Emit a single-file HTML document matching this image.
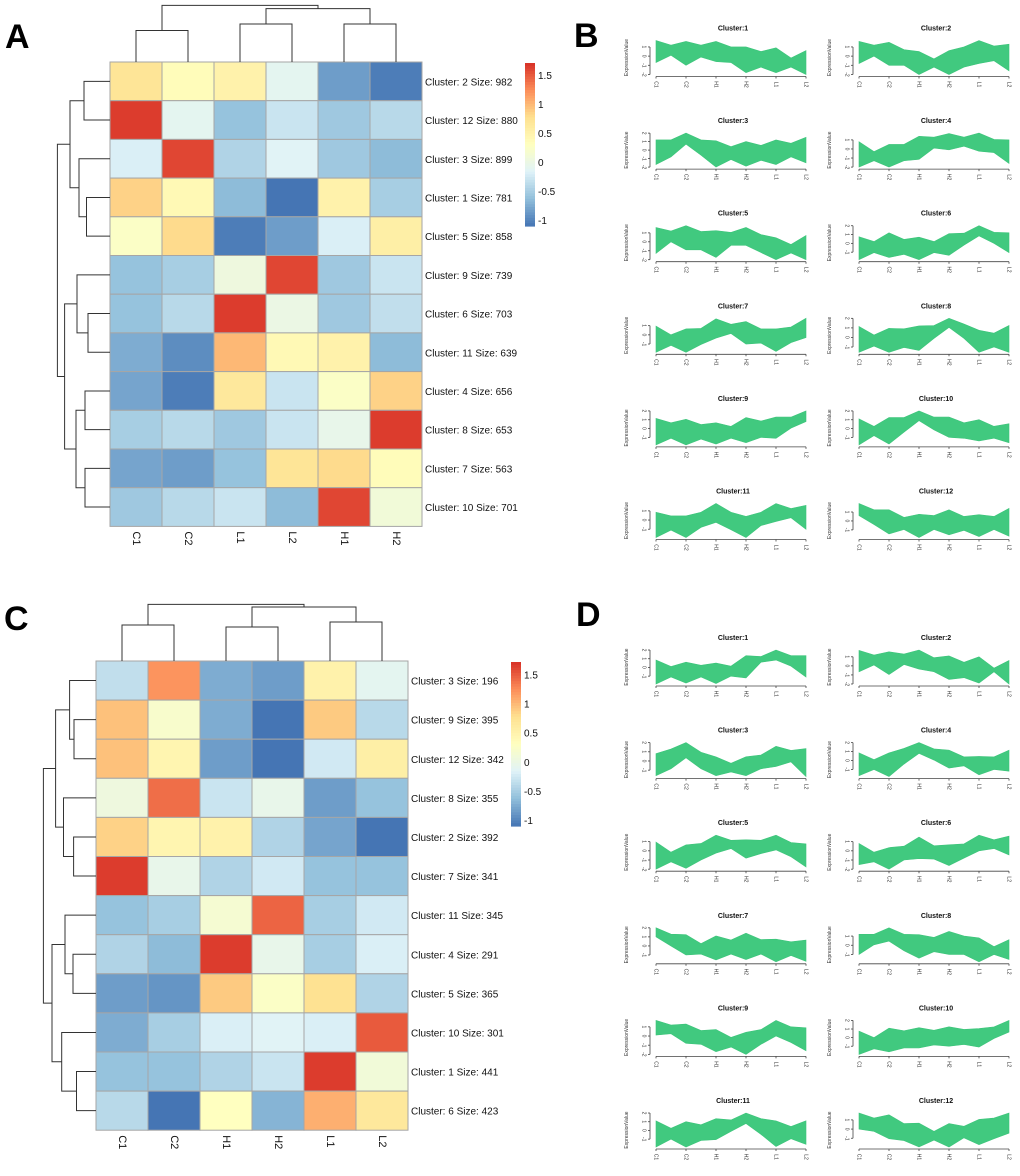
<!DOCTYPE html>
<html><head><meta charset="utf-8">
<style>
html,body{margin:0;padding:0;background:#fff;}
svg{display:block;font-family:"Liberation Sans",Arial,sans-serif;}
</style></head>
<body>
<svg id="fig" width="1020" height="1176" viewBox="0 0 1020 1176" xmlns="http://www.w3.org/2000/svg">
<rect width="1020" height="1176" fill="#fff"/>
<text x="5" y="48" font-size="34" font-weight="bold">A</text>
<text x="574" y="47" font-size="34" font-weight="bold">B</text>
<text x="4" y="630" font-size="34" font-weight="bold">C</text>
<text x="576" y="626" font-size="34" font-weight="bold">D</text>
<g id="layer"></g>
</svg>
<script>
// ---------- Heatmap data ----------
const colsA = ["C1","C2","L1","L2","H1","H2"];
const rowsA = ["Cluster: 2 Size: 982","Cluster: 12 Size: 880","Cluster: 3 Size: 899","Cluster: 1 Size: 781","Cluster: 5 Size: 858","Cluster: 9 Size: 739","Cluster: 6 Size: 703","Cluster: 11 Size: 639","Cluster: 4 Size: 656","Cluster: 8 Size: 653","Cluster: 7 Size: 563","Cluster: 10 Size: 701"];
const valsA = [
 [0.7,0.35,0.5,-0.1,-0.85,-1.05],
 [1.65,-0.1,-0.6,-0.3,-0.55,-0.4],
 [-0.2,1.6,-0.45,-0.15,-0.55,-0.65],
 [0.85,0.4,-0.65,-1.1,0.5,-0.5],
 [0.25,0.8,-1.05,-0.85,-0.2,0.55],
 [-0.6,-0.5,0.05,1.6,-0.55,-0.3],
 [-0.6,-0.4,1.65,0.0,-0.55,-0.35],
 [-0.75,-0.95,1.0,0.4,0.5,-0.65],
 [-0.8,-1.05,0.65,-0.3,0.25,0.85],
 [-0.5,-0.4,-0.55,-0.3,-0.05,1.65],
 [-0.8,-0.85,-0.6,0.7,0.8,0.35],
 [-0.55,-0.4,-0.3,-0.65,1.6,0.1]];
const rowMergeA = [[0,1,26],[3,4,23.5],[2,13,31],[12,14,40],[6,7,22],[5,16,33],[8,9,25],[10,11,25],[18,19,34],[17,20,45.4],[15,21,52.6]];
const colMergeA = [[0,1,31.5],[2,3,38],[4,5,38],[7,8,53.4],[6,9,56.6]];

const colsC = ["C1","C2","H1","H2","L1","L2"];
const rowsC = ["Cluster: 3 Size: 196","Cluster: 9 Size: 395","Cluster: 12 Size: 342","Cluster: 8 Size: 355","Cluster: 2 Size: 392","Cluster: 7 Size: 341","Cluster: 11 Size: 345","Cluster: 4 Size: 291","Cluster: 5 Size: 365","Cluster: 10 Size: 301","Cluster: 1 Size: 441","Cluster: 6 Size: 423"];
const valsC = [
 [-0.35,1.2,-0.75,-0.85,0.5,-0.1],
 [0.95,0.2,-0.75,-1.1,0.9,-0.4],
 [0.95,0.45,-0.85,-1.1,-0.25,0.55],
 [0.05,1.4,-0.3,-0.05,-0.85,-0.6],
 [0.85,0.45,0.5,-0.45,-0.8,-1.1],
 [1.65,-0.05,-0.45,-0.25,-0.6,-0.6],
 [-0.6,-0.5,0.15,1.45,-0.5,-0.25],
 [-0.45,-0.65,1.65,-0.05,-0.5,-0.2],
 [-0.85,-0.9,0.9,0.25,0.75,-0.45],
 [-0.75,-0.5,-0.2,-0.15,-0.2,1.5],
 [-0.6,-0.6,-0.45,-0.3,1.65,0.1],
 [-0.4,-1.1,0.3,-0.7,1.05,0.65]];
const rowMergeC = [[1,2,22],[0,12,26.4],[4,5,22.4],[3,14,32.5],[13,15,40.4],[7,8,23],[6,17,31],[10,11,19.5],[9,19,34.3],[18,20,44],[16,21,52.6]];
const colMergeC = [[0,1,36],[2,3,34],[4,5,39],[7,8,54],[6,9,56.6]];
const cbTicks = [1.5,1,0.5,0,-0.5,-1];

// ---------- Line-panel data (envelopes at half steps C1..L2) ----------
const xLabels = ["C1","C2","H1","H2","L1","L2"];
const hiB = [
 [1.7,1.2,1.6,1.2,1.6,1.0,1.0,0.5,0.9,-0.2,0.6],
 [1.6,1.2,1.5,0.7,0.5,-0.3,0.6,1.0,1.7,1.1,1.3],
 [1.2,1.2,2.0,1.2,1.1,0.4,1.0,0.55,1.2,0.8,1.5],
 [0.8,-0.3,0.5,0.5,1.4,1.3,1.7,1.3,1.75,1.05,1.0],
 [1.6,1.2,1.8,1.15,1.25,1.05,1.6,0.8,0.45,-0.3,0.7],
 [0.75,0.2,1.2,0.45,0.7,0.2,1.1,1.15,2.0,1.25,1.2],
 [0.95,0.0,0.65,0.7,1.75,1.15,1.45,0.65,0.65,0.85,1.8],
 [1.15,0.25,0.95,0.9,1.2,1.25,2.0,1.4,0.75,0.45,1.25],
 [1.15,0.65,1.05,0.45,0.65,0.25,1.25,0.85,1.3,1.3,2.0],
 [1.1,0.25,1.25,1.25,2.0,1.3,1.3,0.65,1.0,0.25,0.55],
 [0.85,0.45,0.45,0.85,1.8,0.85,0.4,0.85,1.8,1.25,1.6],
 [1.95,1.25,1.25,0.4,0.75,0.6,1.25,0.5,0.7,0.5,1.4]];
const loB = [
 [-0.7,0.1,-1.0,-0.1,-0.6,-0.7,-1.8,-1.2,-1.8,-1.2,-2.0],
 [-0.8,0.0,-1.0,-1.0,-2.0,-1.2,-2.0,-1.2,-0.8,-0.5,-1.6],
 [-1.7,-0.8,0.7,-0.6,-2.0,-1.1,-1.9,-1.2,-1.7,-0.8,-1.5],
 [-2.0,-1.3,-2.0,-1.3,-1.15,0.1,-0.1,0.3,-0.25,-0.4,-1.6],
 [-1.3,0.0,-0.9,-0.9,-1.75,-0.4,-0.4,-1.2,-2.0,-1.25,-2.0],
 [-1.85,-1.05,-1.6,-1.25,-1.85,-1.05,-1.35,-0.2,0.85,0.0,-1.05],
 [-1.9,-1.15,-1.9,-1.05,-0.35,0.15,-1.0,-0.9,-1.8,-0.85,-0.3],
 [-1.55,-0.9,-1.55,-1.05,-1.35,-0.1,1.05,-0.1,-1.55,-1.0,-1.55],
 [-1.85,-1.1,-1.85,-1.2,-1.75,-1.1,-1.6,-1.0,-1.1,0.05,0.8],
 [-1.85,-0.8,-1.75,-0.4,0.9,-0.15,-1.0,-1.1,-1.4,-1.1,-1.6],
 [-1.9,-1.1,-1.9,-0.8,-0.25,-1.05,-1.9,-0.6,-0.15,0.25,-1.0],
 [0.6,-0.4,-1.45,-0.95,-1.85,-0.95,-1.55,-1.05,-1.75,-0.95,-1.7]];
const hiD = [
 [0.85,0.1,0.6,0.25,0.5,0.15,1.35,1.25,2.0,1.35,1.35],
 [1.7,1.2,1.55,1.3,1.75,0.9,1.1,0.4,1.0,-0.25,0.6],
 [0.8,1.3,2.0,0.95,0.45,-0.25,0.45,0.65,1.6,1.15,1.35],
 [0.85,0.1,0.85,1.35,2.0,1.3,1.15,0.4,0.45,0.4,1.15],
 [0.95,-0.15,0.65,0.8,1.7,1.15,1.2,1.15,1.7,0.9,0.75],
 [0.8,-0.15,0.35,0.5,1.5,0.55,0.65,0.75,1.7,1.2,1.6],
 [2.0,1.3,1.25,0.25,1.1,0.65,1.4,0.7,0.75,0.45,0.65],
 [1.2,1.2,1.9,1.2,1.15,0.85,1.5,1.0,0.8,-0.15,0.6],
 [1.7,1.2,1.3,0.6,0.7,-0.15,0.4,0.7,1.7,1.0,0.9],
 [0.75,0.0,1.1,0.8,1.15,0.85,1.25,0.95,1.05,1.25,2.0],
 [1.1,0.25,1.0,0.65,1.35,1.2,2.0,1.35,1.1,0.45,1.1],
 [1.75,1.2,1.55,0.6,0.65,-0.25,0.6,0.3,1.05,1.2,1.75]];
const loD = [
 [-1.9,-1.1,-1.8,-1.1,-1.85,-1.0,-1.2,0.6,0.85,0.15,-1.1],
 [-0.65,0.1,-0.95,0.15,-0.35,-0.65,-1.5,-1.3,-1.9,-0.65,-2.0],
 [-1.6,-0.85,0.35,-0.85,-1.6,-1.2,-1.6,-0.85,-0.6,-0.1,-1.7],
 [-1.7,-1.0,-1.8,-0.4,0.8,0.05,-0.85,-0.6,-1.6,-1.0,-1.2],
 [-2.0,-1.2,-1.9,-1.0,-0.25,0.25,-0.8,-0.3,0.1,-0.65,-1.75],
 [-1.5,-1.2,-2.0,-1.0,-0.85,-0.9,-1.6,-0.8,0.0,0.25,-0.45],
 [1.0,0.0,-1.0,-0.9,-1.55,-0.9,-1.5,-0.9,-1.75,-1.05,-1.7],
 [-1.0,0.05,0.45,-0.6,-1.4,-0.7,-1.0,-1.0,-1.8,-1.0,-1.55],
 [0.1,0.25,-0.8,-0.9,-1.7,-1.2,-2.0,-0.9,0.0,-0.7,-1.6],
 [-1.95,-1.3,-1.65,-1.2,-1.2,-0.85,-1.0,-0.8,-1.1,-0.1,0.65],
 [-1.9,-1.0,-1.9,-1.15,-1.05,-0.1,0.8,-0.45,-1.85,-0.95,-1.6],
 [0.0,-0.25,-1.05,-1.25,-1.95,-1.2,-1.95,-0.95,-1.7,-1.05,-0.45]];

// ---------- helpers ----------
const NS = "http://www.w3.org/2000/svg";
const layer = document.getElementById("layer");
function mk(tag, attrs, parent){ const e=document.createElementNS(NS,tag); for(const k in attrs) e.setAttribute(k,attrs[k]); (parent||layer).appendChild(e); return e; }
const pal = [[69,117,180],[145,191,219],[224,243,248],[255,255,191],[254,224,144],[252,141,89],[215,48,39]];
const vMin=-1.1, vMax=1.71;
function color(v){ let t=(v-vMin)/(vMax-vMin); t=Math.max(0,Math.min(1,t))*(pal.length-1); const i=Math.min(pal.length-2,Math.floor(t)); const f=t-i; const c=pal[i].map((a,k)=>Math.round(a+(pal[i+1][k]-a)*f)); return `rgb(${c[0]},${c[1]},${c[2]})`; }

function heatmap(cfg){
  const {x0,y0,cw,rh,cols,rows,vals,rowMerge,colMerge,cb,id} = cfg;
  const g = mk("g",{});
  
  
  vals.forEach((row,r)=>row.forEach((v,c)=>{
    const rc = mk("rect",{x:x0+c*cw,y:y0+r*rh,width:cw,height:rh,fill:color(v),stroke:"#a6a6a6","stroke-width":1},g);
    
    
  }));
  rows.forEach((t,r)=>{
    const tx = mk("text",{x:x0+cols.length*cw+3,y:y0+r*rh+rh/2+4,"font-size":10,fill:"#111"},g);
    tx.textContent=t;
    
    
  });
  cols.forEach((t,c)=>{
    const cx=x0+c*cw+cw/2, cy=y0+rows.length*rh+5;
    const tx = mk("text",{x:cx,y:cy,"font-size":11,fill:"#111",transform:`rotate(90 ${cx} ${cy})`,"dominant-baseline":"middle"},g);
    tx.textContent=t;
    
    
  });
  function dendro(merges,n,leafPos,base,horiz,name){
    const pos=[],hts=[];
    for(let i=0;i<n;i++){pos.push(leafPos(i));hts.push(0);}
    const dg = mk("g",{},g);
    
    
    merges.forEach(m=>{
      const [a,b,h]=m; const pa=pos[a],pb=pos[b];
      let d;
      if(horiz){ d=`M${base-hts[a]},${pa}H${base-h}V${pb}H${base-hts[b]}`; }
      else { d=`M${pa},${base-hts[a]}V${base-h}H${pb}V${base-hts[b]}`; }
      mk("path",{d,fill:"none",stroke:"#333","stroke-width":1},dg);
      pos.push((pa+pb)/2); hts.push(h);
    });
  }
  dendro(rowMerge,rows.length,i=>y0+i*rh+rh/2,x0,true,id+'-row-dendrogram');
  dendro(colMerge,cols.length,i=>x0+i*cw+cw/2,y0,false,id+'-column-dendrogram');
  const cg = mk("g",{},g);
  
  
  const steps=60, h=cb.y1-cb.y0;
  for(let i=0;i<steps;i++){
    const v=vMax-(i+0.5)/steps*(vMax-vMin);
    mk("rect",{x:cb.x,y:cb.y0+i*h/steps,width:10,height:h/steps+0.6,fill:color(v)},cg);
  }
  cbTicks.forEach(t=>{
    const yy=cb.y0+(vMax-t)/(vMax-vMin)*h;
    const tx=mk("text",{x:cb.x+13,y:yy+4,"font-size":10,fill:"#111"},cg);
    tx.textContent=String(t);
    
    
  });
}
heatmap({id:"a",x0:110,y0:62,cw:52,rh:38.7,cols:colsA,rows:rowsA,vals:valsA,rowMerge:rowMergeA,colMerge:colMergeA,cb:{x:525,y0:63,y1:226}});
heatmap({id:"c",x0:96,y0:661,cw:52,rh:39.1,cols:colsC,rows:rowsC,vals:valsC,rowMerge:rowMergeC,colMerge:colMergeC,cb:{x:511,y0:662,y1:826}});

// ---------- line panels ----------
function linePanel(num, hi, lo, tY, colIdx, panel){
  const xL = colIdx===0?656:859, xR = xL+150, axX = xL-6;
  const yTop=tY+12, yBot=tY+48;
  const dmax=Math.max(...hi), dmin=Math.min(...lo), pad=(dmax-dmin)*0.03;
  const y=v=>yTop+(dmax+pad-v)/(dmax-dmin+2*pad)*(yBot-yTop);
  const x=i=>xL+i*(xR-xL)/(hi.length-1);
  const g=mk("g",{});
  
  
  const t=mk("text",{x:(xL+xR)/2+2,y:tY+3,"font-size":7,"font-weight":"bold","text-anchor":"middle",fill:"#111"},g);
  t.textContent="Cluster:"+num;
  
  
  let d="M"+hi.map((v,i)=>x(i)+","+y(v)).join("L");
  for(let i=lo.length-1;i>=0;i--) d+="L"+x(i)+","+y(lo[i]);
  const band=mk("path",{d:d+"Z",fill:"#41c97f",stroke:"#3cc47a","stroke-width":0.6},g);
  
  
  const ticks=[]; for(let k=Math.ceil(dmin-0.02);k<=Math.floor(dmax+0.02);k++) ticks.push(k);
  mk("line",{x1:axX,x2:axX,y1:y(ticks[ticks.length-1]),y2:y(ticks[0]),stroke:"#444","stroke-width":0.8},g);
  ticks.forEach(k=>{
    mk("line",{x1:axX-2,x2:axX,y1:y(k),y2:y(k),stroke:"#444","stroke-width":0.8},g);
    const tx=mk("text",{x:axX-6,y:y(k),"font-size":5,fill:"#333","text-anchor":"middle",transform:`rotate(90 ${axX-6} ${y(k)})`,"dominant-baseline":"middle"},g);
    tx.textContent=String(k);
    
    
  });
  const yl=mk("text",{x:axX-22,y:(yTop+yBot)/2,"font-size":5,fill:"#333","text-anchor":"middle",transform:`rotate(-90 ${axX-22} ${(yTop+yBot)/2})`},g);
  yl.textContent="ExpressionValue";
  
  
  mk("line",{x1:xL,x2:xR,y1:yBot+1,y2:yBot+1,stroke:"#444","stroke-width":0.8},g);
  xLabels.forEach((lab,i)=>{
    const xx=xL+i*(xR-xL)/(xLabels.length-1);
    mk("line",{x1:xx,x2:xx,y1:yBot+1,y2:yBot+3,stroke:"#444","stroke-width":0.8},g);
    const tx=mk("text",{x:xx,y:yBot+9,"font-size":5,fill:"#333","text-anchor":"middle",transform:`rotate(90 ${xx} ${yBot+9})`,"dominant-baseline":"middle"},g);
    tx.textContent=lab;
    
    
  });
}
for(let k=0;k<12;k++){
  linePanel(k+1,hiB[k],loB[k],27.5+Math.floor(k/2)*92.6,k%2,"b");
  linePanel(k+1,hiD[k],loD[k],637+Math.floor(k/2)*92.6,k%2,"d");
}
</script>
</body></html>
